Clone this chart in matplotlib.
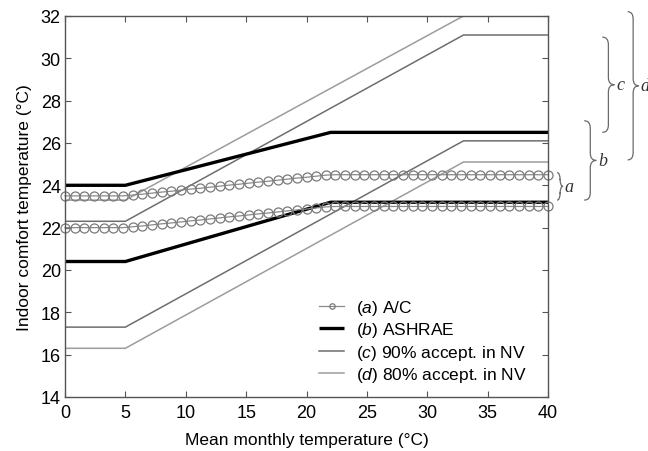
import matplotlib
matplotlib.use("Agg")
import matplotlib.pyplot as plt
from matplotlib.path import Path
from matplotlib.patches import PathPatch

plt.rcParams["font.family"] = ["Liberation Sans", "DejaVu Sans"]
plt.rcParams["mathtext.fontset"] = "custom"
plt.rcParams["mathtext.it"] = "Liberation Sans:italic"
plt.rcParams["mathtext.rm"] = "Liberation Sans"

# A/C comfort band, sampled where the circles sit
ac_x = [0.0, 0.8, 1.6, 2.4, 3.2, 4.0, 4.8, 5.6, 6.4, 7.2, 8.0, 8.8, 9.6, 10.4,
        11.2, 12.0, 12.8, 13.6, 14.4, 15.2, 16.0, 16.8, 17.6, 18.4, 19.2, 20.0,
        20.8, 21.6, 22.4, 23.2, 24.0, 24.8, 25.6, 26.4, 27.2, 28.0, 28.8, 29.6,
        30.4, 31.2, 32.0, 32.8, 33.6, 34.4, 35.2, 36.0, 36.8, 37.6, 38.4, 39.2, 40.0]
ac_upper = [23.5, 23.5, 23.5, 23.5, 23.5, 23.5, 23.5, 23.54, 23.58, 23.63, 23.68,
            23.72, 23.77, 23.82, 23.86, 23.91, 23.96, 24.01, 24.05, 24.10, 24.15,
            24.19, 24.24, 24.29, 24.34, 24.38, 24.43, 24.48, 24.5, 24.5, 24.5, 24.5,
            24.5, 24.5, 24.5, 24.5, 24.5, 24.5, 24.5, 24.5, 24.5, 24.5, 24.5, 24.5,
            24.5, 24.5, 24.5, 24.5, 24.5, 24.5, 24.5]
ac_lower = [22.0, 22.0, 22.0, 22.0, 22.0, 22.0, 22.0, 22.04, 22.08, 22.13, 22.18,
            22.22, 22.27, 22.32, 22.36, 22.41, 22.46, 22.51, 22.55, 22.60, 22.65,
            22.69, 22.74, 22.79, 22.84, 22.88, 22.93, 22.98, 23.0, 23.0, 23.0, 23.0,
            23.0, 23.0, 23.0, 23.0, 23.0, 23.0, 23.0, 23.0, 23.0, 23.0, 23.0, 23.0,
            23.0, 23.0, 23.0, 23.0, 23.0, 23.0, 23.0]

# ASHRAE band
ashrae_x = [0, 5, 22, 40]
ashrae_upper = [24.0, 24.0, 26.5, 26.5]
ashrae_lower = [20.4, 20.4, 23.2, 23.2]

# adaptive bands for naturally ventilated buildings
nv_x = [0, 5, 33, 40]
nv90_upper = [22.3, 22.3, 31.1, 31.1]
nv90_lower = [17.3, 17.3, 26.1, 26.1]
nv80_upper = [23.3, 23.3, 32.0, 32.0]
nv80_lower = [16.3, 16.3, 25.1, 25.1]

# braces on the right: (label, bottom, top, x position, width)
braces = [("a", 23.3, 24.6, 40.75, 0.5),
          ("b", 23.3, 27.05, 43.0, 1.0),
          ("c", 26.5, 31.0, 44.5, 1.0),
          ("d", 25.2, 32.2, 46.6, 0.9)]

fig = plt.figure(figsize=(6.48, 4.52), dpi=100)
ax = fig.add_axes([0.1003, 0.1195, 0.7454, 0.843])

c90 = "#6e6e6e"
c80 = "#9c9c9c"
ax.plot(nv_x, nv90_upper, color=c90, lw=1.1)
ax.plot(nv_x, nv90_lower, color=c90, lw=1.1, label=r"($\it{c}$) 90% accept. in NV")
ax.plot(nv_x, nv80_upper, color=c80, lw=1.1)
ax.plot(nv_x, nv80_lower, color=c80, lw=1.1, label=r"($\it{d}$) 80% accept. in NV")

ax.plot(ashrae_x, ashrae_upper, color="black", lw=2.4, solid_capstyle="butt")
ax.plot(ashrae_x, ashrae_lower, color="black", lw=2.4, solid_capstyle="butt",
        label=r"($\it{b}$) ASHRAE")

ac_style = dict(color="#8a8a8a", lw=0.9, marker="o", markersize=6.5,
                markerfacecolor="none", markeredgecolor="#7a7a7a", markeredgewidth=0.9,
                clip_on=False)
ax.plot(ac_x, ac_upper, **ac_style)
ax.plot(ac_x, ac_lower, label=r"($\it{a}$) A/C", **ac_style)

ax.set_xlim(0, 40)
ax.set_ylim(14, 32)
ax.set_xticks([0, 5, 10, 15, 20, 25, 30, 35, 40])
ax.set_yticks([14, 16, 18, 20, 22, 24, 26, 28, 30, 32])
ax.tick_params(direction="in", top=True, right=True, length=4, width=0.8,
               color="#555555", labelsize=13, pad=3)
ax.tick_params(axis="x", pad=5)
for s in ax.spines.values():
    s.set_color("#555555")
    s.set_linewidth(1.0)

ax.set_xlabel("Mean monthly temperature (°C)", fontsize=12.5, labelpad=8)
ax.set_ylabel("Indoor comfort temperature (°C)", fontsize=12.5, labelpad=6)

handles, labels = ax.get_legend_handles_labels()
order = [labels.index(l) for l in [r"($\it{a}$) A/C", r"($\it{b}$) ASHRAE",
                                   r"($\it{c}$) 90% accept. in NV",
                                   r"($\it{d}$) 80% accept. in NV"]]
leg = ax.legend([handles[i] for i in order], [labels[i] for i in order],
                loc="upper left", bbox_to_anchor=(319 / 648, 1 - 299 / 452),
                bbox_transform=fig.transFigure, frameon=False, fontsize=12.5,
                handlelength=1.45, handletextpad=0.7, labelspacing=0.2,
                borderpad=0, borderaxespad=0, markerscale=0.6)


def draw_brace(ax, x, y0, y1, w=0.66, r=0.35):
    ym = (y0 + y1) / 2
    xm = x + w / 2
    verts = [(x, y1), (xm, y1), (xm, y1 - r),
             (xm, ym + r),
             (xm, ym), (x + w, ym),
             (xm, ym), (xm, ym - r),
             (xm, y0 + r),
             (xm, y0), (x, y0)]
    codes = [Path.MOVETO, Path.CURVE3, Path.CURVE3,
             Path.LINETO,
             Path.CURVE3, Path.CURVE3,
             Path.CURVE3, Path.CURVE3,
             Path.LINETO,
             Path.CURVE3, Path.CURVE3]
    patch = PathPatch(Path(verts, codes), facecolor="none", edgecolor="#6a6a6a",
                      lw=0.9, clip_on=False)
    ax.add_patch(patch)


for name, lo, hi, bx, bw in braces:
    draw_brace(ax, bx, lo, hi, w=bw)
    ax.text(bx + bw + 0.15, (lo + hi) / 2, name, family="Liberation Serif",
            style="italic", fontsize=13, color="#333333", va="center", ha="left",
            clip_on=False)

fig.savefig("out.png", dpi=100)
